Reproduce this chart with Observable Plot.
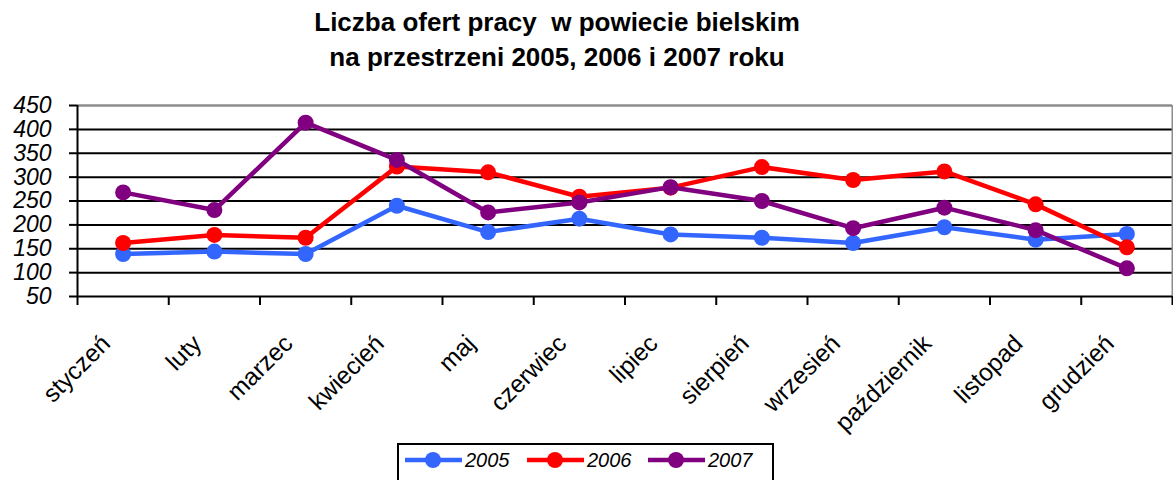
<!DOCTYPE html>
<html>
<head>
<meta charset="utf-8">
<script src="https://cdn.jsdelivr.net/npm/d3@7"></script>
<script src="https://cdn.jsdelivr.net/npm/@observablehq/plot@0.6"></script>
<style>
  html, body { margin: 0; padding: 0; background: #fff; }
  body { position: relative; width: 1173px; height: 480px; overflow: hidden; font-family: "Liberation Sans", Arial, sans-serif; }
  #title { position: absolute; left: 0; top: 5px; width: 1114px; text-align: center; font-weight: bold; font-size: 26px; line-height: 35px; white-space: pre; color: #000; }
  #chart { position: absolute; left: 0; top: 80px; }
  #legend { position: absolute; left: 397px; top: 443px; width: 377px; height: 60px; box-sizing: border-box; border: 2px solid #000; }
  #legend svg { position: absolute; left: 0; top: 0; overflow: visible; }
  .lg-text { position: absolute; font-style: italic; font-size: 20px; line-height: 20px; color: #000; }
</style>
</head>
<body>
<div id="title">Liczba ofert pracy  w powiecie bielskim
na przestrzeni 2005, 2006 i 2007 roku</div>
<div id="chart"></div>
<div id="legend"></div>
<script>
const months = ["styczeń","luty","marzec","kwiecień","maj","czerwiec","lipiec","sierpień","wrzesień","październik","listopad","grudzień"];
const years = ["2005","2006","2007"];
const values2005 = [139, 144, 139, 240, 185, 213, 180, 173, 162, 195, 169, 181];
const values2006 = [162, 179, 173, 322, 310, 259, 278, 321, 294, 312, 243, 153];
const values2007 = [268, 231, 414, 336, 226, 247, 279, 250, 193, 236, 189, 109];
const colors = ["#3366FF", "#FF0000", "#800080"];
const yTicks = [50, 100, 150, 200, 250, 300, 350, 400, 450];

const seriesValues = [values2005, values2006, values2007];
const data = years.flatMap((y, k) => seriesValues[k].map((v, i) => ({year: y, month: months[i], idx: i, value: v})));

const seriesMarks = years.flatMap(y => {
  const d = data.filter(r => r.year === y);
  return [
    Plot.line(d, {x: r => r.idx + 0.5, y: "value", stroke: "year", strokeWidth: 4.5}),
    Plot.dot(d, {x: r => r.idx + 0.5, y: "value", fill: "year", r: 8})
  ];
});

const chart = Plot.plot({
  width: 1173,
  height: 363,
  marginLeft: 77,
  marginRight: 1,
  marginTop: 25,
  marginBottom: 147,
  x: {type: "linear", domain: [0, 12]},
  y: {domain: [50, 450]},
  color: {domain: years, range: colors},
  style: {fontFamily: "'Liberation Sans', Arial, sans-serif", fontSize: "23px", color: "#000", background: "transparent", overflow: "visible"},
  marks: [
    Plot.ruleY(yTicks.filter(v => v > 50 && v < 450), {stroke: "#000", strokeWidth: 2}),
    Plot.ruleY([450], {stroke: "#8c8c8c", strokeWidth: 2.5}),
    Plot.ruleX([12], {stroke: "#8c8c8c", strokeWidth: 2}),
    Plot.axisY({ticks: yTicks, tickSize: 8, tickPadding: 18, strokeWidth: 2, fontSize: 23, fontStyle: "italic", label: null}),
    Plot.ruleX([0], {stroke: "#000", strokeWidth: 2}),
    Plot.ruleY([50], {stroke: "#000", strokeWidth: 2}),
    Plot.axisX({ticks: d3.range(13), tickFormat: () => "", tickSize: 9, strokeWidth: 2, label: null}),
    Plot.text(months, {x: (d, i) => i + 0.5, frameAnchor: "bottom", rotate: -45, textAnchor: "end", lineAnchor: "middle", dx: -17, dy: 43, fontSize: 24.5, fill: "#000"}),
    ...seriesMarks
  ]
});
document.getElementById("chart").appendChild(chart);

// Legend
const legend = document.getElementById("legend");
const ns = "http://www.w3.org/2000/svg";
const lsvg = document.createElementNS(ns, "svg");
lsvg.setAttribute("width", 377); lsvg.setAttribute("height", 60);
legend.appendChild(lsvg);
const itemX = [6, 128, 249];
years.forEach((y, k) => {
  const x0 = itemX[k];
  const line = document.createElementNS(ns, "line");
  line.setAttribute("x1", x0); line.setAttribute("x2", x0 + 57);
  line.setAttribute("y1", 15); line.setAttribute("y2", 15);
  line.setAttribute("stroke", colors[k]); line.setAttribute("stroke-width", 4.5);
  lsvg.appendChild(line);
  const c = document.createElementNS(ns, "circle");
  c.setAttribute("cx", x0 + 28); c.setAttribute("cy", 15); c.setAttribute("r", 8);
  c.setAttribute("fill", colors[k]);
  lsvg.appendChild(c);
  const t = document.createElement("div");
  t.className = "lg-text";
  t.style.left = (x0 + 60) + "px";
  t.style.top = "5px";
  t.textContent = y;
  legend.appendChild(t);
});
</script>
</body>
</html>
